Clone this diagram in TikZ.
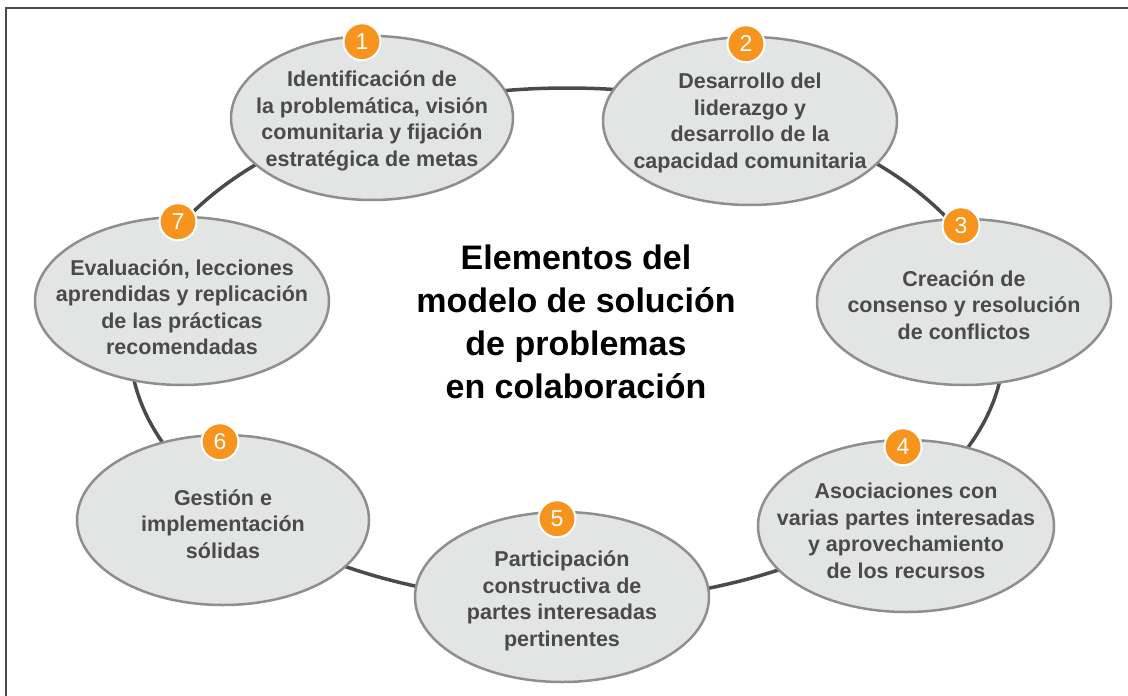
\documentclass[tikz,border=0pt]{standalone}
\usepackage{fontspec}
\setmainfont{Liberation Sans}
\usepackage{tikz}
\usetikzlibrary{shapes.geometric}
\definecolor{naranja}{HTML}{F7941E}
\definecolor{relleno}{HTML}{E3E4E4}
\definecolor{borde}{HTML}{8E8E8E}
\definecolor{aro}{HTML}{4A4A4A}
\definecolor{letra}{HTML}{4A4A4A}
\tikzstyle{marco} = [draw=aro, line width=2pt]
\tikzstyle{anillo} = [draw=aro, line width=3.5pt, ellipse, minimum width=874pt, minimum height=514pt, inner sep=0pt]
\tikzstyle{elemento} = [draw=borde, fill=relleno, line width=2.5pt, ellipse, inner sep=0pt, minimum width=294pt, minimum height=168pt]
\tikzstyle{texto} = [text=letra, align=center, font=\fontsize{21.5}{26.5}\selectfont\bfseries, inner sep=0pt]
\tikzstyle{numero} = [circle, fill=naranja, draw=white, line width=2pt, minimum size=37pt, inner sep=0pt, text=white, font=\fontsize{23}{23}\selectfont]
\tikzstyle{titulo} = [align=center, font=\fontsize{34}{43}\selectfont\bfseries]

\begin{document}
\begin{tikzpicture}[x=1pt, y=-1pt]
		\useasboundingbox (0,0) rectangle (1128,696);
		\draw[marco] (6,696) -- (6,8) -- (1128,8);
		\node[anillo] (ring) at (567,345) {};
		\node[elemento, minimum width=282pt, minimum height=164pt] (e1) at (372,118) {};
		\node[elemento] (e2) at (750,121) {};
		\node[elemento, minimum height=166pt] (e3) at (964,302) {};
		\node[elemento, minimum width=296pt, minimum height=172pt] (e4) at (906,526) {};
		\node[elemento, minimum height=170pt] (e5) at (562,597) {};
		\node[elemento, minimum width=292pt, minimum height=170pt] (e6) at (223,520) {};
		\node[elemento] (e7) at (182,301) {};
		\node[texto] (t1) at ([yshift=-3pt]e1) {Identificación de\\la problemática, visión\\comunitaria y fijación\\estratégica de metas};
		\node[texto] (t2) at ([yshift=-2pt]e2) {Desarrollo del\\liderazgo y\\desarrollo de la\\capacidad comunitaria};
		\node[texto] (t3) at ([yshift=-3pt]e3) {Creación de\\consenso y resolución\\de conflictos};
		\node[texto] (t4) at ([yshift=-5pt]e4) {Asociaciones con\\varias partes interesadas\\y aprovechamiento\\de los recursos};
		\node[texto] (t5) at ([yshift=-4pt]e5) {Participación\\constructiva de\\partes interesadas\\pertinentes};
		\node[texto] (t6) at ([yshift=-4pt]e6) {Gestión e\\implementación\\sólidas};
		\node[texto] (t7) at ([yshift=-6pt]e7) {Evaluación, lecciones\\aprendidas y replicación\\de las prácticas\\recomendadas};
		\node[numero] (n1) at ([xshift=-10pt, yshift=-7pt]e1.north) {1};
		\node[numero] (n2) at ([xshift=-4pt, yshift=-8pt]e2.north) {2};
		\node[numero] (n3) at ([xshift=-3pt, yshift=-8pt]e3.north) {3};
		\node[numero] (n4) at ([xshift=-3pt, yshift=-8pt]e4.north) {4};
		\node[numero] (n5) at ([xshift=-5pt, yshift=-8pt]e5.north) {5};
		\node[numero] (n6) at ([xshift=-3pt, yshift=-8pt]e6.north) {6};
		\node[numero] (n7) at ([xshift=-4pt, yshift=-6pt]e7.north) {7};
		\node[titulo] (centro) at (576,322) {Elementos del\\modelo de solución\\de problemas\\en colaboración};
	\end{tikzpicture}
\end{document}
